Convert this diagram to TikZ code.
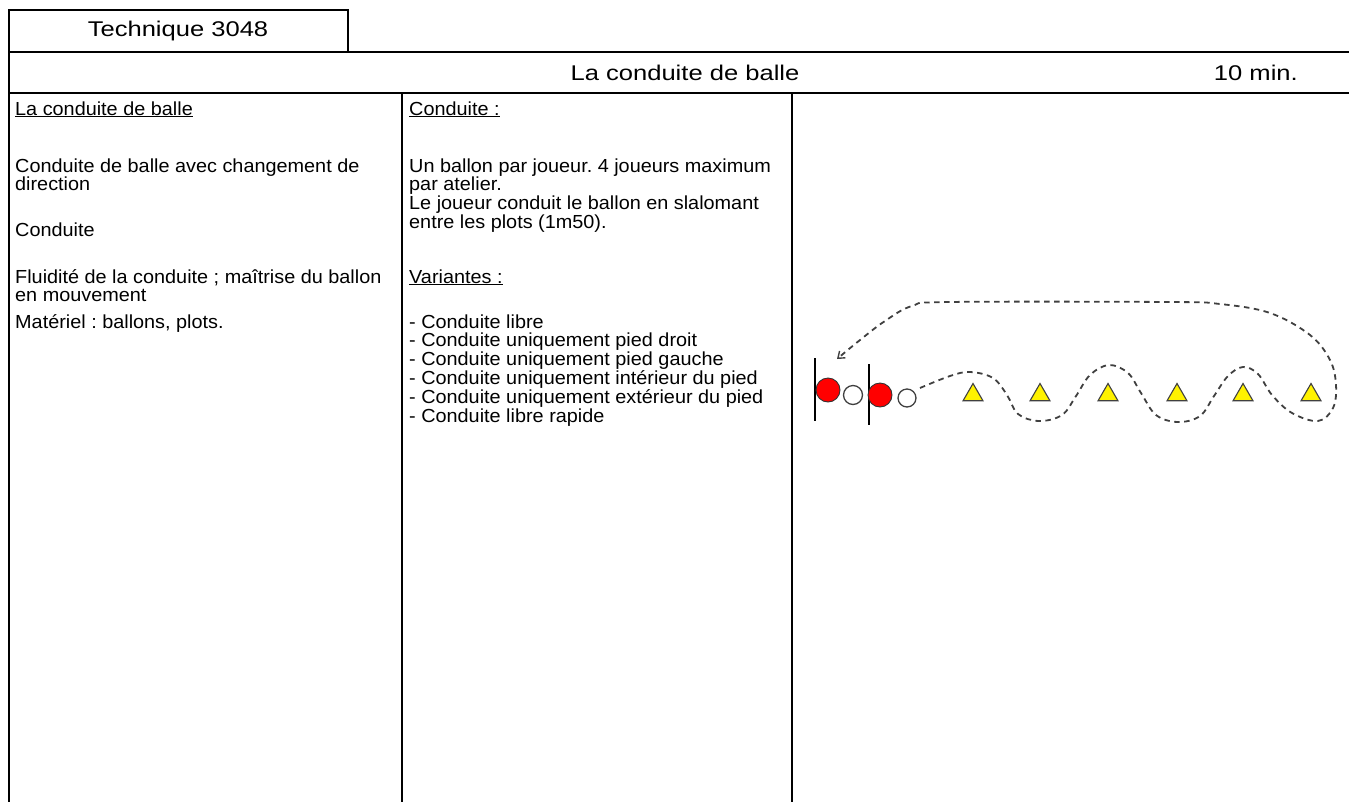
\documentclass[tikz,border=0pt]{standalone}
\usepackage{fontspec}
\setmainfont[FakeStretch=1.05]{Liberation Sans}
\newfontfamily\headfont[FakeStretch=1.2]{Liberation Sans}
\usetikzlibrary{positioning, arrows.meta, shapes.geometric, calc}
\frenchspacing

\begin{document}
\begin{tikzpicture}[x=1pt, y=-1pt,
    rule/.style={line width=1.8pt},
    head/.style={inner sep=0pt, font=\headfont\fontsize{21.3}{25}\selectfont},
    body/.style={anchor=base west, align=left, inner sep=0pt, font=\fontsize{18.9}{18.8}\selectfont},
    player/.style={circle, draw=black!80, fill=red, minimum size=24pt, inner sep=0pt, line width=0.9pt},
    ball/.style={circle, draw=black!75, fill=white, minimum size=19pt, inner sep=0pt, line width=1.3pt},
    cone/.style={regular polygon, regular polygon sides=3, draw=black!75, fill=yellow, minimum size=23pt, inner sep=0pt, line width=1.1pt},
    track/.style={draw=black!75, line width=1.8pt, dash pattern=on 5.5pt off 4.5pt}]
    \useasboundingbox (0,0) rectangle (1349,801);
    \clip (0,0) rectangle (1349,801);

    % table frame
    \draw[rule] (9,10) rectangle (348,52);
    \draw[rule] (9,52) -- (1360,52);
    \draw[rule] (9,93) -- (1360,93);
    \draw[rule] (9,10) -- (9,810);
    \draw[rule] (402,93) -- (402,810);
    \draw[rule] (792,93) -- (792,810);

    % headings
    \node[head] (technique) at (178,31) {Technique 3048};
    \node[head] (title) at (685,73) {La conduite de balle};
    \node[head, anchor=east] (duration) at (1298,73) {10 min.};

    % left column (base = last line)
    \node[body] (theme) at (15,115) {\underline{La conduite de balle}};
    \node[body] (aim) at (15,190.8) {Conduite de balle avec changement de\\ direction};
    \node[body] (skill) at (15,236) {Conduite};
    \node[body] (criteria) at (15,301.8) {Fluidité de la conduite ; maîtrise du ballon\\ en mouvement};
    \node[body] (material) at (15,328) {Matériel : ballons, plots.};

    % middle column
    \node[body] (setuphead) at (409,115) {\underline{Conduite :}};
    \node[body] (setup) at (409,228.4) {Un ballon par joueur. 4 joueurs maximum\\ par atelier.\\
        Le joueur conduit le ballon en slalomant\\ entre les plots (1m50).};
    \node[body] (varianthead) at (409,283) {\underline{Variantes :}};
    \node[body] (variants) at (409,422) {- Conduite libre\\
        - Conduite uniquement pied droit\\
        - Conduite uniquement pied gauche\\
        - Conduite uniquement intérieur du pied\\
        - Conduite uniquement extérieur du pied\\
        - Conduite libre rapide};

    % start lines and players
    \draw[line width=2pt] (815,358) coordinate (gate1) -- (815,421);
    \draw[line width=2pt] (869,364) coordinate (gate2) -- (869,425);
    \node[player] (player1) at (828,390) {};
    \node[ball] (ball1) at (853,395) {};
    \node[player] (player2) at (880,395) {};
    \node[ball, minimum size=18pt] (ball2) at (907,398) {};

    % cones
    \foreach \x [count=\i] in {973,1040,1108,1177,1243,1311}
        \node[cone] (cone\i) at (\x,395) {};

    % slalom and return
    \coordinate (start) at (920,388);
    \coordinate (back) at (837,359);
    \draw[track, -{Straight Barb[length=6pt, width=9pt, line width=1.4pt]}] plot[smooth, tension=0.6] coordinates {
        (start) (950,376) (970,372) (993,378) (1007,395) (1018,414) (1039,421)
        (1062,415) (1076,396) (1090,375) (1109,365) (1128,373) (1141,393)
        (1156,415) (1178,422) (1200,416) (1214,396) (1228,376) (1243,367)
        (1258,374) (1272,395) (1292,413) (1318,421) (1333,408) (1336,385)
        (1330,360) (1310,335) (1270,313) (1220,304) (1170,302) (950,302)
        (912,306) (885,321) (860,340) (back)};
\end{tikzpicture}
\end{document}
